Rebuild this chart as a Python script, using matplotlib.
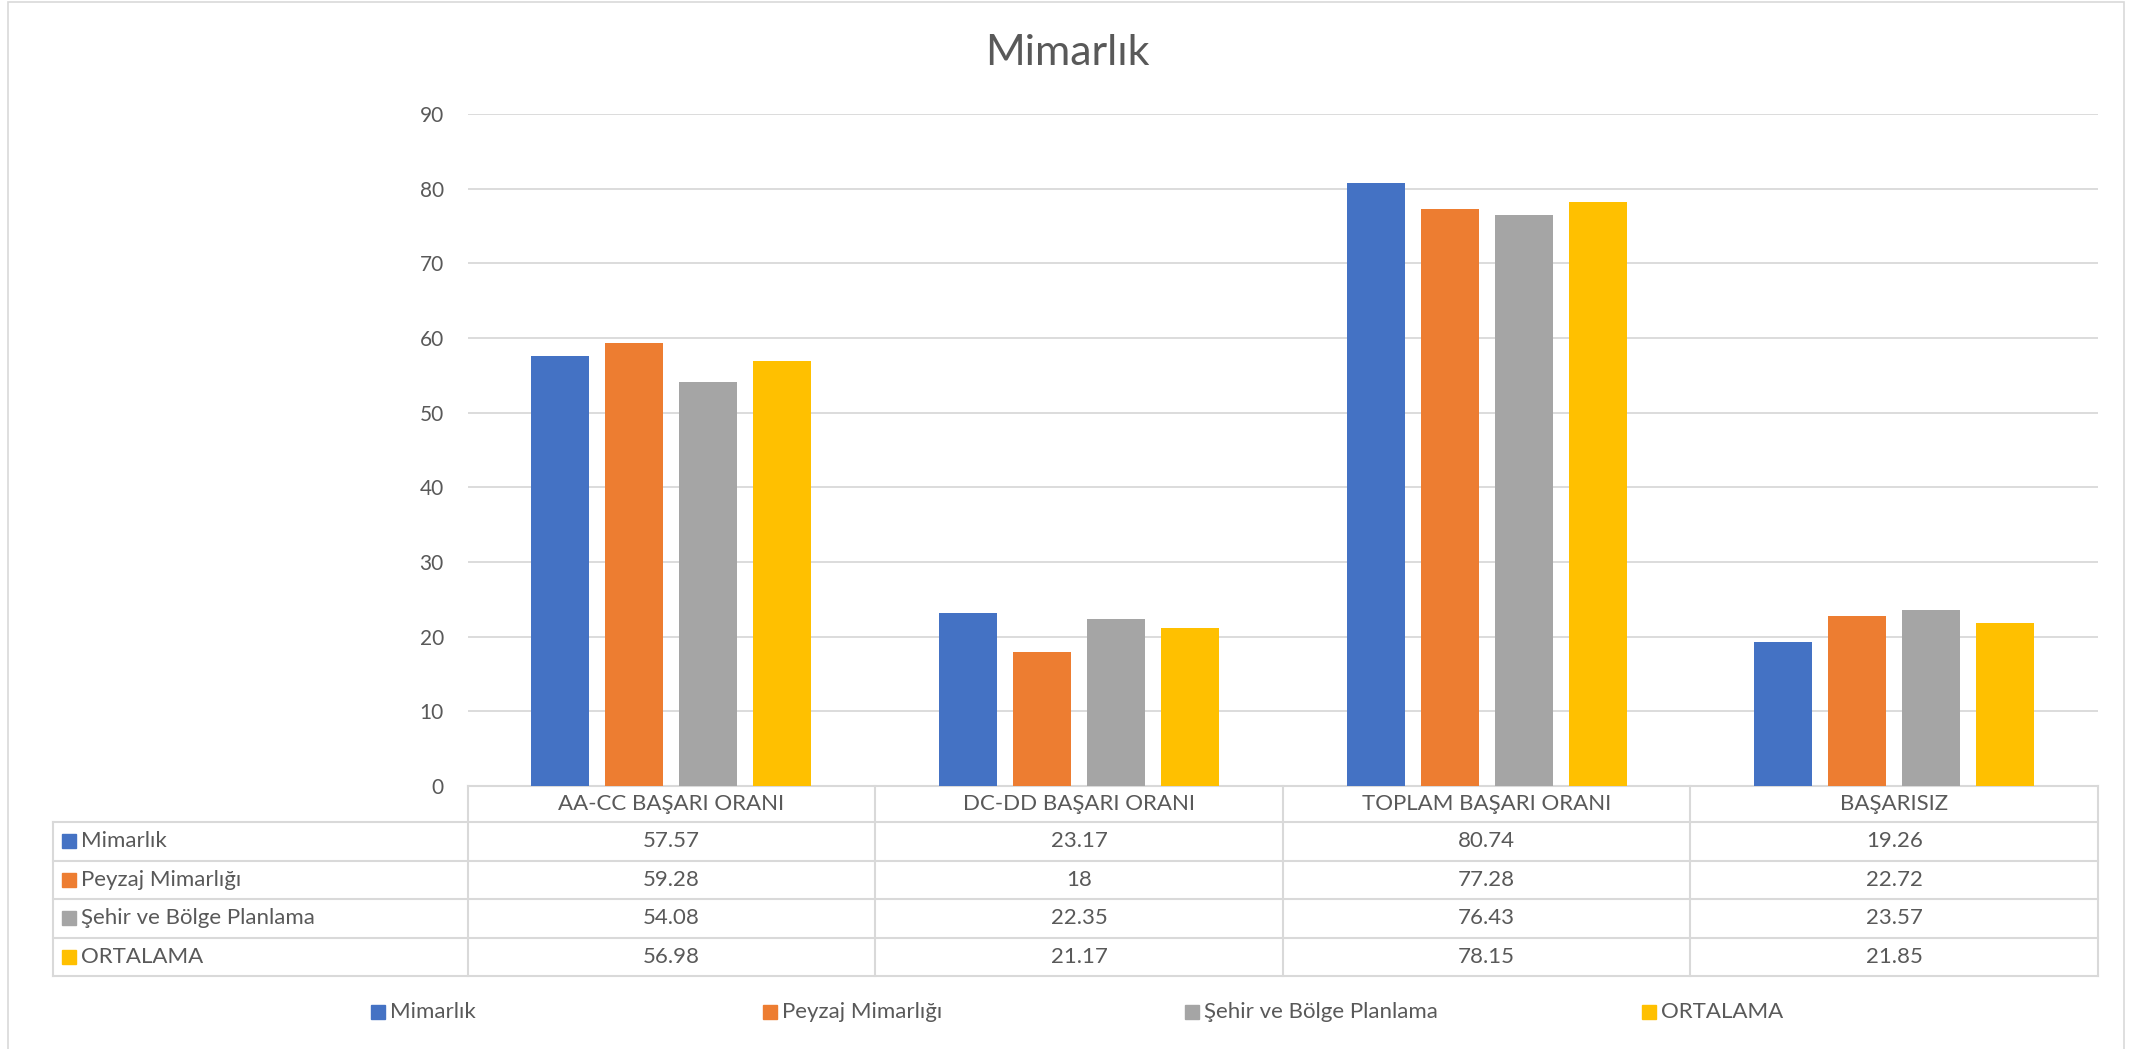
import matplotlib
matplotlib.use('Agg')
import matplotlib.pyplot as plt
from matplotlib.patches import Rectangle
from matplotlib.lines import Line2D
from matplotlib.transforms import blended_transform_factory
import numpy as np

plt.rcParams['font.family'] = ['Lato', 'DejaVu Sans']

categories = ["AA-CC BAŞARI ORANI", "DC-DD BAŞARI ORANI", "TOPLAM BAŞARI ORANI", "BAŞARISIZ"]
series_names = ["Mimarlık", "Peyzaj Mimarlığı", "Şehir ve Bölge Planlama", "ORTALAMA"]
mimarlik = [57.57, 23.17, 80.74, 19.26]
peyzaj = [59.28, 18, 77.28, 22.72]
sehir = [54.08, 22.35, 76.43, 23.57]
ortalama = [56.98, 21.17, 78.15, 21.85]
series_values = [mimarlik, peyzaj, sehir, ortalama]
colors = ["#4472C4", "#ED7D31", "#A5A5A5", "#FFC000"]
yticks = [0, 10, 20, 30, 40, 50, 60, 70, 80, 90]
title = "Mimarlık"

TXT = '#595959'
GRID = '#D9D9D9'
FS = 16
W, H = 2129, 1049
fig = plt.figure(figsize=(W / 100, H / 100), dpi=100)


def fx(px):
    return px / W


def fy(py):
    return 1 - py / H


# chart border (bottom edge falls outside the canvas, as in the reference)
fig.add_artist(Rectangle((fx(8), fy(1055)), fx(2124) - fx(8), fy(2) - fy(1055),
                         transform=fig.transFigure, fill=False, edgecolor=GRID, lw=1.2))

ax = fig.add_axes([fx(467.5), fy(786), fx(2098) - fx(467.5), fy(114) - fy(786)])
x = np.arange(len(categories))
bw = 0.1423
step = 0.1816
for i, (vals, c) in enumerate(zip(series_values, colors)):
    ax.bar(x + (i - 1.5) * step, vals, width=bw, color=c, zorder=3)

ax.set_xlim(-0.5, len(categories) - 0.5)
ax.set_ylim(0, 90)
ax.set_yticks(yticks)
ax.yaxis.grid(True, color=GRID, lw=1.3)
ax.set_axisbelow(True)
for s in ['top', 'right', 'left']:
    ax.spines[s].set_visible(False)
ax.spines['bottom'].set_color(GRID)
ax.spines['bottom'].set_linewidth(1.5)
ax.set_xticks([])
ax.tick_params(axis='y', length=0, pad=17, labelsize=15, labelcolor=TXT)

fig.text(0.5012, fy(53), title, ha='center', va='center', fontsize=31, color=TXT)

# data table
trans = blended_transform_factory(ax.transData, fig.transFigure)
row_edges = [822, 860.5, 899, 937.5, 976]
for y in row_edges:
    fig.add_artist(Line2D([fx(53), fx(2098)], [fy(y), fy(y)], color=GRID, lw=1.5,
                          transform=fig.transFigure))
fig.add_artist(Line2D([fx(53), fx(53)], [fy(822), fy(976)], color=GRID, lw=1.5,
                      transform=fig.transFigure))
for b in np.arange(len(categories) + 1) - 0.5:
    ax.add_line(Line2D([b, b], [fy(786), fy(976)], color=GRID, lw=1.5,
                       transform=trans, clip_on=False))

for j, cat in enumerate(categories):
    ax.text(j, fy(804), cat, transform=trans, ha='center', va='center',
            fontsize=FS, color=TXT, clip_on=False)

for i, (name, vals, c) in enumerate(zip(series_names, series_values, colors)):
    yc = (row_edges[i] + row_edges[i + 1]) / 2
    fig.add_artist(Rectangle((fx(62), fy(yc + 7)), fx(14), 14 / H,
                             transform=fig.transFigure, color=c))
    fig.text(fx(81), fy(yc), name, ha='left', va='center', fontsize=FS, color=TXT)
    for j, v in enumerate(vals):
        ax.text(j, fy(yc), f"{v:g}", transform=trans, ha='center', va='center',
                fontsize=FS, color=TXT, clip_on=False)

# legend
leg_x = [371, 763, 1185, 1642]
for name, c, lx in zip(series_names, colors, leg_x):
    fig.add_artist(Rectangle((fx(lx), fy(1012 + 7)), fx(14), 14 / H,
                             transform=fig.transFigure, color=c))
    fig.text(fx(lx + 19), fy(1012), name, ha='left', va='center', fontsize=FS, color=TXT)

fig.savefig('out.png', dpi=100)
